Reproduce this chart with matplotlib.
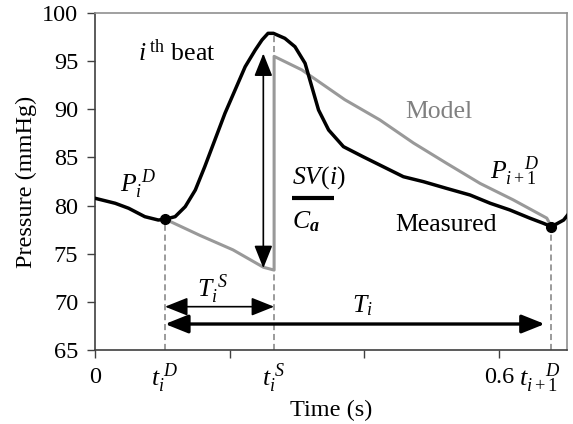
import matplotlib
matplotlib.use("Agg")
import matplotlib.pyplot as plt
import matplotlib.transforms as mtransforms

plt.rcParams['font.family'] = ['Liberation Serif', 'DejaVu Serif']
plt.rcParams['mathtext.fontset'] = 'custom'
plt.rcParams['mathtext.rm'] = 'Liberation Serif'
plt.rcParams['mathtext.it'] = 'Liberation Serif:italic'
plt.rcParams['mathtext.bf'] = 'Liberation Serif:italic:bold'

# measured pressure, one beat (s, mmHg)
t_meas = [0.000, 0.030, 0.050, 0.074, 0.094, 0.104, 0.119, 0.134, 0.149, 0.163,
          0.178, 0.193, 0.208, 0.223, 0.238, 0.248, 0.257, 0.265, 0.282, 0.297,
          0.312, 0.322, 0.332, 0.347, 0.369, 0.398, 0.428, 0.458, 0.488, 0.522,
          0.557, 0.587, 0.616, 0.646, 0.666, 0.678, 0.696, 0.706]
p_meas = [80.76, 80.24, 79.72, 78.85, 78.50, 78.58, 78.85, 79.89, 81.62, 84.04,
          86.81, 89.58, 92.00, 94.42, 96.16, 97.20, 97.89, 97.89, 97.37, 96.50,
          94.78, 92.35, 89.93, 87.85, 86.12, 85.08, 84.04, 83.00, 82.48, 81.79,
          81.10, 80.24, 79.55, 78.69, 78.16, 77.81, 78.50, 79.37]

# model pressure
t_model = [0.104, 0.156, 0.205, 0.250, 0.266, 0.266, 0.307, 0.371, 0.423,
           0.473, 0.522, 0.572, 0.621, 0.671, 0.678]
p_model = [78.6, 76.9, 75.4, 73.6, 73.3, 95.5, 94.1, 91.0, 88.9,
           86.5, 84.4, 82.3, 80.6, 78.7, 77.8]

# key instants
t_iD = 0.104
t_iS = 0.266
t_i1D = 0.678
p_iD = 78.6
p_i1D = 77.8
p_peak = 97.9

x_ticks = [0, 0.2, 0.4, 0.6]
x_ticklabels = ['0', '', '', '0.6']
y_ticks = [65, 70, 75, 80, 85, 90, 95, 100]

fig = plt.figure(figsize=(5.73, 4.24), dpi=100)
ax = fig.add_axes([0.1658, 0.1745, 0.8237, 0.7948])

gray = '#999999'
fs = 18.5
arrow = '<|-|>,head_length=0.7,head_width=0.28'

ax.plot(t_model, p_model, color=gray, lw=2.2, zorder=3)
ax.plot(t_meas, p_meas, color='black', lw=2.5, zorder=4)
ax.plot([t_iD, t_i1D], [p_iD, p_i1D], 'o', color='black', ms=7, zorder=5)

# dashed guides
for tx, top in [(t_iD, p_iD), (t_iS, p_peak), (t_i1D, p_i1D)]:
    ax.plot([tx, tx], [65, top], color='#808080', lw=1.1, ls=(0, (4, 2.5)), zorder=2)

# arrows
ax.annotate('', xy=(0.250, 95.8), xytext=(0.250, 73.5),
            arrowprops=dict(arrowstyle=arrow, mutation_scale=20, lw=1.2,
                            color='black', shrinkA=0, shrinkB=0))
ax.annotate('', xy=(t_iS, 69.5), xytext=(t_iD, 69.5),
            arrowprops=dict(arrowstyle=arrow, mutation_scale=20, lw=1.2,
                            color='black', shrinkA=0, shrinkB=0))
ax.annotate('', xy=(0.668, 67.7), xytext=(t_iD, 67.7),
            arrowprops=dict(arrowstyle=arrow, mutation_scale=20, lw=2.4,
                            color='black', shrinkA=0, shrinkB=0))

# labels inside the plot
ax.text(0.064, 95.9, r'$i$$^{\ \mathrm{th}}$ beat', fontsize=fs, va='center', ha='left')
ax.text(0.037, 82.2, r'$P_i^{\ D}$', fontsize=fs, va='center', ha='left')
ax.text(0.587, 83.5, r'$P_{i+1}^{\ \ \ \ D}$', fontsize=fs, va='center', ha='left')
ax.text(0.511, 89.7, 'Model', fontsize=fs, color='#808080', va='center', ha='center')
ax.text(0.521, 78.0, 'Measured', fontsize=fs, va='center', ha='center')
ax.text(0.175, 71.3, r'$T_i^{\ S}$', fontsize=fs, va='center', ha='center')
ax.text(0.397, 69.6, r'$T_i$', fontsize=fs, va='center', ha='center')
ax.text(0.293, 82.9, r'$SV(i)$', fontsize=fs, va='center', ha='left')
ax.plot([0.293, 0.355], [80.8, 80.8], color='black', lw=3, solid_capstyle='butt')
ax.text(0.293, 78.3, r'$C_{\mathbf{a}}$', fontsize=fs, va='center', ha='left')

# time labels below the axis
trans = mtransforms.blended_transform_factory(ax.transData, ax.transAxes)
ax.text(t_iD, -0.085, r'$t_i^{\ D}$', fontsize=fs, transform=trans, ha='center', va='center')
ax.text(t_iS, -0.085, r'$t_i^{\ S}$', fontsize=fs, transform=trans, ha='center', va='center')
ax.text(0.630, -0.085, r'$t_{i+1}^{\ \ \ \ D}$', fontsize=19, transform=trans,
        ha='left', va='center')

ax.set_xlim(0, 0.701)
ax.set_ylim(65, 100)
ax.set_xticks(x_ticks)
ax.set_xticklabels(x_ticklabels)
ax.set_yticks(y_ticks)
ax.tick_params(axis='both', labelsize=17.5, direction='out', length=6, width=1,
               color='#404040', pad=6)
ax.set_xlabel('Time (s)', fontsize=17.5, labelpad=9)
ax.set_ylabel('Pressure (mmHg)', fontsize=17.5, labelpad=4)

for side in ['left', 'bottom']:
    ax.spines[side].set_color('#404040')
    ax.spines[side].set_linewidth(1.2)
for side in ['top', 'right']:
    ax.spines[side].set_color('#909090')
    ax.spines[side].set_linewidth(1.2)

fig.savefig('out.png', dpi=100)
